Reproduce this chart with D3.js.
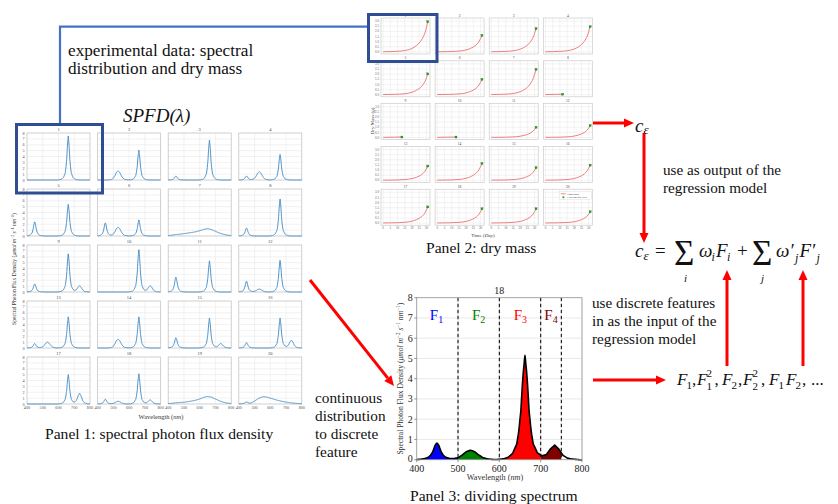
<!DOCTYPE html>
<html><head><meta charset="utf-8">
<script src="https://cdn.jsdelivr.net/npm/d3@7/dist/d3.min.js"></script>
<style>html,body{margin:0;padding:0;background:#fff;} svg{display:block;}</style>
</head><body>
<svg id="chart" width="838" height="504"></svg>
<script>
// ================= DATA =================
const panelIds = [1,2,3,4,5,6,7,8,9,10,11,12,13,14,15,16,17,18,19,20];

// Panel 1: LED peak heights per spectrum (µmol m-2 s-1 nm-1)
const blueAmp   = [0, 0, 0.7, 0.7, 2.5, 2.3, 0, 1.4, 1.4, 0, 2.6, 1.9, 0.8, 0, 1.8, 0.95, 0, 0.85, 0, 0.3];
const greenAmp  = [0, 1.55, 0, 1.4, 0, 1.5, 0, 0, 0, 0, 0, 0.5, 1.0, 1.5, 0, 0, 0, 0.47, 0, 0];
const redAmp    = [7.5, 5.1, 6.8, 4.35, 5.4, 2.75, 0, 6.3, 6.5, 7.2, 5.3, 5.4, 5.3, 5.3, 5.1, 5.1, 5.0, 5.15, 0, 0];
const farRedAmp = [0, 0, 0, 0, 0, 0, 0, 0, 1.1, 1.1, 0, 0, 0, 0, 0.8, 1.35, 1.85, 0.72, 0, 0];
const bandCenters = [449, 530, 662, 734]; // blue, green, red, far-red peak wavelengths

const narrowOffsets = [-70,-50,-40,-30,-20,-15,-10,-5,0,5,10,15,20,30,40,50,70];
const narrowShape   = [0,0.01,0.025,0.06,0.15,0.27,0.47,0.8,1,0.8,0.47,0.27,0.15,0.06,0.025,0.01,0];
const greenOffsets  = [-70,-50,-40,-30,-20,-10,0,10,20,30,40,50,70];
const greenShape    = [0,0.03,0.08,0.2,0.48,0.85,1,0.85,0.5,0.22,0.09,0.04,0];
const farRedOffsets = [-60,-40,-30,-20,-10,0,10,20,30,40,60];
const farRedShape   = [0,0.05,0.12,0.3,0.72,1,0.72,0.3,0.12,0.05,0];

// broad (white-like) spectra
const broadWavelengths = [400,425,450,475,500,525,550,575,600,625,650,675,700,725,750,775,800];
const broad7  = [0.05,0.15,0.25,0.3,0.4,0.5,0.6,0.72,0.9,1.12,1.25,1.1,0.8,0.5,0.3,0.15,0.07];
const broad19 = [0.08,0.12,0.2,0.25,0.3,0.4,0.5,0.65,0.85,1.12,1.28,1.15,0.85,0.55,0.3,0.15,0.08];
const broad20 = [0.02,0.04,0.06,0.12,0.5,0.95,1.22,1.2,1.0,0.8,0.6,0.45,0.32,0.22,0.14,0.08,0.04];

const p1XTicks = [400,500,600,700,800];
const p1YTicks = [0,1,2,3,4,5,6,7,8];

// Panel 2: dry mass growth
const dmDays  = [0, 5, 10, 15, 20, 23, 25, 27, 29, 31];
const dmShape = [0, 0.005, 0.015, 0.04, 0.11, 0.2, 0.29, 0.42, 0.63, 1];
const dmStart = 0.02;
const dmFinal  = [2.94, 1.61, 2.26, 2.45, 2.03, 1.5, 2.47, 0.05, 0.05, 0.05, 1.0, 1.16, 1.39, 1.64, 1.23, 1.48, 1.58, 1.39, 1.39, 1.10];
const dmEndDay = [31, 31, 31, 31, 31, 31, 31, 12, 13, 13, 31, 31, 31, 31, 31, 31, 31, 31, 31, 31];
const p2XTicks = [0,5,10,15,20,25,30];
const p2YTicks = [0,0.5,1,1.5,2,2.5,3];

// Panel 3: dividing spectrum 18 into features
const featureBands  = [[400,500],[500,600],[600,700],[700,750]];
const featureNames  = ["1","2","3","4"];
const featureColors = ["#0000ff","#008000","#ff0000","#800000"];
const featureLabelX = [448, 550, 651, 725];
const dividers = [500, 600, 700, 750];
const p3Id = 18;

// ================= DRAWING =================
const svg = d3.select("#chart");
const SERIF = '"Liberation Serif","Times New Roman",serif';
svg.append("rect").attr("width",838).attr("height",504).attr("fill","#fff");

function txt(parent, x, y, s, size, o = {}) {
  const t = parent.append("text").attr("x", x).attr("y", y)
    .attr("font-family", SERIF).attr("font-size", size)
    .attr("fill", o.fill || "#111")
    .attr("text-anchor", o.anchor || "start")
    .attr("font-style", o.italic ? "italic" : "normal")
    .text(s);
  return t;
}

const nb = d3.scaleLinear().domain(narrowOffsets).range(narrowShape).clamp(true);
const gb = d3.scaleLinear().domain(greenOffsets).range(greenShape).clamp(true);
const fb = d3.scaleLinear().domain(farRedOffsets).range(farRedShape).clamp(true);
const broadScales = {
  7: d3.scaleLinear().domain(broadWavelengths).range(broad7),
  19: d3.scaleLinear().domain(broadWavelengths).range(broad19),
  20: d3.scaleLinear().domain(broadWavelengths).range(broad20)
};
const wl = d3.range(400, 801, 2);
function spectrum(id) {
  const i = id - 1;
  return wl.map(l => {
    let v = blueAmp[i]*nb(l-bandCenters[0]) + greenAmp[i]*gb(l-bandCenters[1]) +
            redAmp[i]*nb(l-bandCenters[2]) + farRedAmp[i]*fb(l-bandCenters[3]);
    if (broadScales[id]) v += broadScales[id](l);
    return [l, v];
  });
}

function unitLabel(parent, tx, ty, size, supSize, shift) {
  const yl = parent.append("text").attr("font-family",SERIF).attr("font-size",size).attr("fill","#333")
    .attr("text-anchor","middle").attr("transform",`translate(${tx},${ty}) rotate(-90)`);
  yl.append("tspan").text("Spectral Photon Flux Density (");
  yl.append("tspan").attr("font-style","italic").text("μmol m");
  yl.append("tspan").attr("font-size",supSize).attr("dy",-shift).text("−2");
  yl.append("tspan").attr("font-style","italic").attr("dy",shift).text(" s");
  yl.append("tspan").attr("font-size",supSize).attr("dy",-shift).text("−1");
  yl.append("tspan").attr("font-style","italic").attr("dy",shift).text(" nm");
  yl.append("tspan").attr("font-size",supSize).attr("dy",-shift).text("−1");
  yl.append("tspan").attr("dy",shift).text(")");
  return yl;
}

// ---------- Panel 1 ----------
const P1 = {x0:27, dx:70.6, w:63, y0:133, dy:56, h:47};
const g1 = svg.append("g");
panelIds.forEach((id, i) => {
  const c = i % 4, r = Math.floor(i / 4);
  const left = P1.x0 + c*P1.dx, top = P1.y0 + r*P1.dy;
  const xs = d3.scaleLinear().domain([400,800]).range([left, left+P1.w]);
  const ys = d3.scaleLinear().domain([0,8]).range([top+P1.h, top]);
  const g = g1.append("g");
  g.append("rect").attr("x",left).attr("y",top).attr("width",P1.w).attr("height",P1.h).attr("fill","#fff");
  g.selectAll(".gy").data(p1YTicks).join("line").attr("x1",left).attr("x2",left+P1.w)
    .attr("y1",d=>ys(d)).attr("y2",d=>ys(d)).attr("stroke","#e4e4e4").attr("stroke-width",0.5);
  g.selectAll(".gx").data(p1XTicks).join("line").attr("y1",top).attr("y2",top+P1.h)
    .attr("x1",d=>xs(d)).attr("x2",d=>xs(d)).attr("stroke","#e4e4e4").attr("stroke-width",0.5);
  g.append("rect").attr("x",left).attr("y",top).attr("width",P1.w).attr("height",P1.h)
    .attr("fill","none").attr("stroke","#bdbdbd").attr("stroke-width",0.6);
  g.append("path").datum(spectrum(id))
    .attr("d", d3.line().x(d=>xs(d[0])).y(d=>ys(d[1])).curve(d3.curveMonotoneX))
    .attr("fill","none").attr("stroke","#3b86c0").attr("stroke-width",0.9);
  txt(g, left+P1.w/2, top-1.8, String(id), 4.5, {anchor:"middle", fill:"#444"});
  if (c === 0) p1YTicks.forEach(t => txt(g, left-2.5, ys(t)+1.5, String(t), 4.2, {anchor:"end", fill:"#555"}));
  if (r === 4) p1XTicks.forEach(t => txt(g, xs(t), top+P1.h+5, String(t), 4.2, {anchor:"middle", fill:"#555"}));
});
{
  const t = txt(g1, 161, 419, "Wavelength (", 6.5, {anchor:"middle", fill:"#333"});
  t.append("tspan").attr("font-style","italic").text("nm");
  t.append("tspan").text(")");
  unitLabel(g1, 16, 269, 5.6, 3.8, 2);
}

// ---------- Panel 2 ----------
const P2 = {x0:381, dx:54.1, w:49, y0:18, dy:42.8, h:36};
const g2 = svg.append("g");
panelIds.forEach((id, i) => {
  const c = i % 4, r = Math.floor(i / 4);
  const left = P2.x0 + c*P2.dx, top = P2.y0 + r*P2.dy;
  const xs = d3.scaleLinear().domain([-1.5,32.5]).range([left, left+P2.w]);
  const ys = d3.scaleLinear().domain([-0.2,3.3]).range([top+P2.h, top]);
  const g = g2.append("g");
  g.append("rect").attr("x",left).attr("y",top).attr("width",P2.w).attr("height",P2.h).attr("fill","#fff");
  g.selectAll(".gy").data(p2YTicks).join("line").attr("x1",left).attr("x2",left+P2.w)
    .attr("y1",d=>ys(d)).attr("y2",d=>ys(d)).attr("stroke","#e6e6e6").attr("stroke-width",0.5);
  g.selectAll(".gx").data(p2XTicks).join("line").attr("y1",top).attr("y2",top+P2.h)
    .attr("x1",d=>xs(d)).attr("x2",d=>xs(d)).attr("stroke","#e6e6e6").attr("stroke-width",0.5);
  g.append("rect").attr("x",left).attr("y",top).attr("width",P2.w).attr("height",P2.h)
    .attr("fill","none").attr("stroke","#c4c4c4").attr("stroke-width",0.6);
  const end = dmEndDay[i], fin = dmFinal[i];
  const series = end >= 31
    ? dmDays.map((d,k) => [d, dmStart + (fin-dmStart)*dmShape[k]])
    : [[0, dmStart], [end, fin]];
  g.append("path").datum(series)
    .attr("d", d3.line().x(d=>xs(d[0])).y(d=>ys(d[1])).curve(d3.curveMonotoneX))
    .attr("fill","none").attr("stroke","#ee6f6f").attr("stroke-width",0.9);
  const last = series[series.length-1];
  g.append("rect").attr("x",xs(last[0])-1).attr("y",ys(last[1])-1).attr("width",2).attr("height",2)
    .attr("fill","#2ca02c").attr("stroke","#1a6e1a").attr("stroke-width",0.3);
  txt(g, left+P2.w/2, top-1.5, String(id), 3.6, {anchor:"middle", fill:"#444"});
  if (c === 0) p2YTicks.forEach(t => txt(g, left-2, ys(t)+1.1, t.toFixed(1), 3.2, {anchor:"end", fill:"#555"}));
  if (r === 4) p2XTicks.forEach(t => txt(g, xs(t), top+P2.h+4, String(t), 3.2, {anchor:"middle", fill:"#555"}));
  if (id === 20) {
    const lx = left+P2.w-33, ly = top+2;
    g.append("rect").attr("x",lx).attr("y",ly).attr("width",32).attr("height",8.5)
      .attr("fill","#fff").attr("stroke","#ccc").attr("stroke-width",0.3);
    g.append("line").attr("x1",lx+1.5).attr("x2",lx+6.5).attr("y1",ly+2.6).attr("y2",ly+2.6)
      .attr("stroke","#ee6f6f").attr("stroke-width",0.8);
    g.append("rect").attr("x",lx+3.2).attr("y",ly+5.2).attr("width",1.8).attr("height",1.8).attr("fill","#2ca02c");
    txt(g, lx+8, ly+3.5, "Simulation", 2.6, {fill:"#333"});
    txt(g, lx+8, ly+7, "Experimental Data", 2.6, {fill:"#333"});
  }
});
{
  const t = txt(g2, 483, 237, "Time (", 5, {anchor:"middle", fill:"#333"});
  t.append("tspan").attr("font-style","italic").text("Day");
  t.append("tspan").text(")");
  const yl = g2.append("text").attr("font-family",SERIF).attr("font-size",5).attr("fill","#333")
    .attr("text-anchor","middle").attr("transform","translate(374,121) rotate(-90)");
  yl.append("tspan").text("Dry Mass (");
  yl.append("tspan").attr("font-style","italic").text("g");
  yl.append("tspan").text(")");
}

// ---------- Panel 3 ----------
const P3 = {l:416.7, r:582, t:297.7, b:459.7};
const g3 = svg.append("g");
{
  const xs = d3.scaleLinear().domain([400,800]).range([P3.l, P3.r]);
  const ys = d3.scaleLinear().domain([0,8]).range([P3.b, P3.t]);
  g3.append("rect").attr("x",P3.l).attr("y",P3.t).attr("width",P3.r-P3.l).attr("height",P3.b-P3.t).attr("fill","#fff");
  g3.selectAll(".gy").data(p1YTicks).join("line").attr("x1",P3.l).attr("x2",P3.r)
    .attr("y1",d=>ys(d)).attr("y2",d=>ys(d)).attr("stroke","#e3e3e3").attr("stroke-width",0.8);
  g3.selectAll(".gx").data(p1XTicks).join("line").attr("y1",P3.t).attr("y2",P3.b)
    .attr("x1",d=>xs(d)).attr("x2",d=>xs(d)).attr("stroke","#e3e3e3").attr("stroke-width",0.8);
  const sp = spectrum(p3Id);
  featureBands.forEach((b, k) => {
    const pts = sp.filter(d => d[0] >= b[0] && d[0] <= b[1]);
    g3.append("path").datum(pts)
      .attr("d", d3.area().x(d=>xs(d[0])).y0(ys(0)).y1(d=>ys(d[1])).curve(d3.curveMonotoneX))
      .attr("fill", featureColors[k]);
  });
  g3.append("path").datum(sp)
    .attr("d", d3.line().x(d=>xs(d[0])).y(d=>ys(d[1])).curve(d3.curveMonotoneX))
    .attr("fill","none").attr("stroke","#000").attr("stroke-width",1.6);
  g3.selectAll(".dv").data(dividers).join("line")
    .attr("x1",d=>xs(d)).attr("x2",d=>xs(d)).attr("y1",P3.t).attr("y2",P3.b)
    .attr("stroke","#111").attr("stroke-width",1.1).attr("stroke-dasharray","3.5,2.5");
  g3.append("rect").attr("x",P3.l).attr("y",P3.t).attr("width",P3.r-P3.l).attr("height",P3.b-P3.t)
    .attr("fill","none").attr("stroke","#9a9a9a").attr("stroke-width",0.8);
  p1YTicks.forEach(t => {
    g3.append("line").attr("x1",P3.l-2.5).attr("x2",P3.l).attr("y1",ys(t)).attr("y2",ys(t)).attr("stroke","#555").attr("stroke-width",0.6);
    txt(g3, P3.l-4, ys(t)+(t === 0 ? 2.2 : 3.3), String(t), 10, {anchor:"end", fill:"#222"});
  });
  p1XTicks.forEach(t => {
    g3.append("line").attr("y1",P3.b).attr("y2",P3.b+2.5).attr("x1",xs(t)).attr("x2",xs(t)).attr("stroke","#555").attr("stroke-width",0.6);
    txt(g3, xs(t), P3.b+12.3, String(t), 10, {anchor:"middle", fill:"#222"});
  });
  featureNames.forEach((n, k) => {
    const t = txt(g3, xs(featureLabelX[k]), ys(6.9), "F", 15, {anchor:"middle", fill:featureColors[k]});
    t.append("tspan").attr("font-size",10).attr("dy",3).text(n);
  });
  txt(g3, (P3.l+P3.r)/2, P3.t-4, String(p3Id), 10, {anchor:"middle", fill:"#222"});
  const xl = txt(g3, 495, 480, "Wavelength (", 8.2, {anchor:"middle", fill:"#333"});
  xl.append("tspan").attr("font-style","italic").text("nm");
  xl.append("tspan").text(")");
  unitLabel(g3, 403, (P3.t+P3.b)/2, 7.6, 5.2, 3);
}

// ---------- annotations ----------
const ga = svg.append("g");
ga.append("path").attr("d","M60,124 V26.7 H368.3").attr("fill","none").attr("stroke","#4472c4").attr("stroke-width",2.2);
ga.append("rect").attr("x",16.5).attr("y",124.5).attr("width",86).attr("height",68.5)
  .attr("fill","none").attr("stroke","#2f4d93").attr("stroke-width",3);
ga.append("rect").attr("x",368.5).attr("y",14.5).attr("width",68.5).attr("height",47)
  .attr("fill","none").attr("stroke","#2f4d93").attr("stroke-width",3);

txt(ga, 68, 56, "experimental data: spectral", 17.2);
txt(ga, 68, 74, "distribution and dry mass", 17.2);
txt(ga, 123, 122, "SPFD(λ)", 19, {italic:true});
txt(ga, 45, 439, "Panel 1: spectral photon flux density", 15.6);
txt(ga, 426, 253, "Panel 2: dry mass", 15.6);
txt(ga, 410, 501, "Panel 3: dividing spectrum", 15.6);
txt(ga, 663, 175, "use as output of the", 15.2);
txt(ga, 663, 193, "regression model", 15.2);
txt(ga, 592, 308, "use discrete features", 15.2);
txt(ga, 592, 326, "in as the input of the", 15.2);
txt(ga, 592, 343.5, "regression model", 15.2);
txt(ga, 315, 403, "continuous", 15.3);
txt(ga, 315, 421, "distribution", 15.3);
txt(ga, 315, 439, "to discrete", 15.3);
txt(ga, 315, 457, "feature", 15.3);

function arrow(x1,y1,x2,y2) {
  const a = Math.atan2(y2-y1, x2-x1), L = 10, Wd = 4.5;
  const bx = x2 - L*Math.cos(a), by = y2 - L*Math.sin(a);
  ga.append("line").attr("x1",x1).attr("y1",y1).attr("x2",bx).attr("y2",by)
    .attr("stroke","#ff0000").attr("stroke-width",3);
  const px = -Math.sin(a)*Wd, py = Math.cos(a)*Wd;
  ga.append("path").attr("d",`M${x2},${y2} L${bx+px},${by+py} L${bx-px},${by-py} Z`).attr("fill","#ff0000");
}
arrow(593,123,634,123);
arrow(644,133,644,243);
arrow(727,366,727,270);
arrow(803,366,803,270);
arrow(593,380,666,380);
arrow(310,280,394,386);

function m(x,y,s,size,italic=true){ return txt(ga, x, y, s, size, {italic}); }
function endX(t){ const b=t.node().getBBox(); return b.x+b.width; }
m(635,131.5,"c",19); m(643.5,134,"ε",13);
m(635,257,"c",19); m(643.5,260,"ε",13);
m(655,257,"=",19,false);
m(674,265,"Σ",35,false); m(684,282,"i",11);
m(699,257,"ω",19); m(711.5,261,"i",12); m(716,257,"F",19); m(727,261,"i",12);
m(737,257,"+",19,false);
m(752,265,"Σ",35,false); m(761,282,"j",11);
{
  const w = m(776,257,"ω′",19);
  const jx = endX(w);
  m(jx+0.5,262,"j",12);
  const f = m(jx+5,257,"F′",19);
  m(endX(f)+0.5,262,"j",12);
}

// feature list
m(677,385,"F",17); m(686.5,389,"1",11,false); m(692,385,",",17,false);
m(697,385,"F",17); m(706.5,377,"2",11,false); m(706.5,389.5,"1",11,false); m(714.5,385,",",17,false);
m(722,385,"F",17); m(731.5,389,"2",11,false); m(738,385,",",17,false);
m(743,385,"F",17); m(752.5,377,"2",11,false); m(752.5,389.5,"2",11,false); m(761,385,",",17,false);
m(769,385,"F",17); m(778.5,389,"1",11,false); m(786,385,"F",17); m(795.5,389,"2",11,false); m(802,385,",",17,false);
m(811,385,"...",17,false);
</script>
</body></html>
